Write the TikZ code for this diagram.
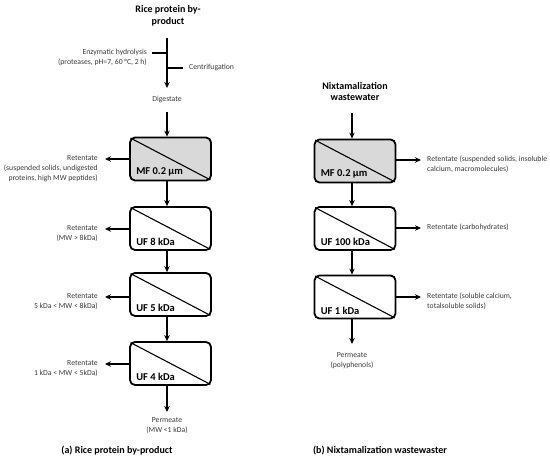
\documentclass[tikz,border=0pt]{standalone}
\usepackage{fontspec}
\setmainfont{Carlito}
\usetikzlibrary{arrows.meta,calc}
\definecolor{txt}{HTML}{3A3A3A}
\definecolor{mfgray}{HTML}{D9D9D9}
\tikzset{
  memb/.style={draw=black, line width=1.8pt, rounded corners=5pt, minimum width=81pt, minimum height=43pt, inner sep=0pt},
  lbl/.style={font=\fontsize{10.5}{12}\selectfont\bfseries, text=black, inner sep=0pt},
  small/.style={font=\fontsize{7.7}{10}\selectfont, text=txt, inner sep=0pt},
  ttl/.style={font=\fontsize{10}{11.5}\selectfont\bfseries, text=black, inner sep=0pt, align=center},
  flow/.style={line width=1.2pt, -{Stealth[length=6pt,width=5.5pt]}},
  tick/.style={line width=1.2pt},
}
\begin{document}
\begin{tikzpicture}[x=1pt,y=-1pt]
\useasboundingbox (0,0) rectangle (550,462);
% ---------- left column ----------
\node[ttl] (t1) at (168,16) {Rice protein by-\\product};
\coordinate (s1) at (167,38);
\coordinate (e1) at (167,88);
\coordinate (hyd) at (152,53);
\coordinate (cen) at (183,68);
\node[small, align=right, anchor=east] (hydt) at (147,57.5) {Enzymatic hydrolysis\\(proteases, pH=7, 60 °C, 2 h)};
\node[small, anchor=west] (cent) at (189,68) {Centrifugation};
\draw[flow] (s1) -- (e1);
\draw[tick] (hyd) -- (hyd -| s1);
\draw[tick] (cen -| s1) -- (cen);
\node[small] (dig) at (167,99.5) {Digestate};
\coordinate (d1) at (167,112);

\node[memb, fill=mfgray] (mf1) at (170.5,159) {};
\node[memb] (uf8) at (170.5,228.5) {};
\node[memb] (uf5) at (170.5,294.5) {};
\node[memb] (uf4) at (170.5,363.5) {};
\node[lbl, anchor=south west] (mf1l) at ([shift={(7,-5)}]mf1.south west) {MF 0.2 µm};
\node[lbl, anchor=south west] (uf8l) at ([shift={(7,-5)}]uf8.south west) {UF 8 kDa};
\node[lbl, anchor=south west] (uf5l) at ([shift={(7,-5)}]uf5.south west) {UF 5 kDa};
\node[lbl, anchor=south west] (uf4l) at ([shift={(7,-5)}]uf4.south west) {UF 4 kDa};

\draw[flow] (d1) -- (mf1.north -| d1);
\draw[flow] (mf1.south -| d1) -- (uf8.north -| d1);
\draw[flow] (uf8.south -| d1) -- (uf5.north -| d1);
\draw[flow] (uf5.south -| d1) -- (uf4.north -| d1);
\coordinate (p1) at (167,412);
\draw[flow] (uf4.south -| d1) -- (p1);
\node[small, align=center, anchor=north] (perm1) at (167,417) {Permeate\\(MW <1 kDa)};

\coordinate (r1) at (105,159);
\coordinate (r2) at (105,229);
\coordinate (r3) at (105,297);
\coordinate (r4) at (105,364);
\draw[flow] (mf1.west |- r1) -- (r1);
\draw[flow] (uf8.west |- r2) -- (r2);
\draw[flow] (uf5.west |- r3) -- (r3);
\draw[flow] (uf4.west |- r4) -- (r4);
\node[small, align=right, anchor=north east] (ret1) at (98,155) {Retentate\\(suspended solids, undigested\\proteins, high MW peptides)};
\node[small, align=right, anchor=north east] (ret2) at (98,225) {Retentate\\(MW > 8kDa)};
\node[small, align=right, anchor=north east] (ret3) at (98,293) {Retentate\\5 kDa < MW < 8kDa)};
\node[small, align=right, anchor=north east] (ret4) at (98,360) {Retentate\\1 kDa < MW < 5kDa)};

\node[ttl] (capa) at (117,451) {(a) Rice protein by-product};

% ---------- right column ----------
\node[ttl] (t2) at (355,91.5) {Nixtamalization\\wastewater};
\coordinate (s2) at (352,113);
\node[memb, fill=mfgray] (mf2) at (355,161) {};
\node[memb] (uf100) at (355,228.5) {};
\node[memb] (uf1) at (355,297) {};
\node[lbl, anchor=south west] (mf2l) at ([shift={(7,-5)}]mf2.south west) {MF 0.2 µm};
\node[lbl, anchor=south west] (uf100l) at ([shift={(7,-5)}]uf100.south west) {UF 100 kDa};
\node[lbl, anchor=south west] (uf1l) at ([shift={(7,-5)}]uf1.south west) {UF 1 kDa};

\draw[flow] (s2) -- (mf2.north -| s2);
\draw[flow] (mf2.south -| s2) -- (uf100.north -| s2);
\draw[flow] (uf100.south -| s2) -- (uf1.north -| s2);
\coordinate (p2) at (352,344);
\draw[flow] (uf1.south -| s2) -- (p2);
\node[small, align=center, anchor=north] (perm2) at (352,352) {Permeate\\(polyphenols)};

\coordinate (q1) at (421,160);
\coordinate (q2) at (421,228);
\coordinate (q3) at (421,297);
\draw[flow] (mf2.east |- q1) -- (q1);
\draw[flow] (uf100.east |- q2) -- (q2);
\draw[flow] (uf1.east |- q3) -- (q3);
\node[small, align=left, anchor=north west] (rr1) at (427,156) {Retentate (suspended solids, insoluble\\calcium, macromolecules)};
\node[small, align=left, anchor=north west] (rr2) at (427,224) {Retentate (carbohydrates)};
\node[small, align=left, anchor=north west] (rr3) at (427,293) {Retentate (soluble calcium,\\totalsoluble solids)};

\node[ttl] (capb) at (380,451) {(b) Nixtamalization wastewaster};

% diagonals
\foreach \b in {mf1,uf8,uf5,uf4,mf2,uf100,uf1}{
  \draw[line width=1.1pt] ([shift={(1.5,1.5)}]\b.north west) -- ([shift={(-1.5,-1.5)}]\b.south east);
}
\end{tikzpicture}
\end{document}
